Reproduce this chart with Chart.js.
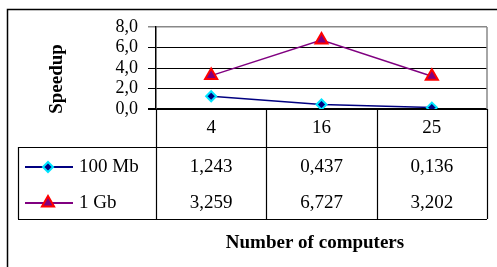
<!DOCTYPE html>
<html>
<head>
<meta charset="utf-8">
<script src="https://cdn.jsdelivr.net/npm/chart.js@4/dist/chart.umd.min.js"></script>
<style>
  html, body { margin: 0; padding: 0; background: #fff; }
  canvas { display: block; }
</style>
</head>
<body>
<canvas id="speedChart" width="497" height="267"></canvas>
<script>
// ── Data ─────────────────────────────────────────────────
const computers  = ['4', '16', '25'];
const speed100Mb = [1.243, 0.437, 0.136];
const speed1Gb   = [3.259, 6.727, 3.202];
const seriesNames = ['100 Mb', '1 Gb'];
const yTicks = [0, 2, 4, 6, 8];

const SERIF = '"Liberation Serif", "Times New Roman", serif';
const fmt = (v, d) => v.toFixed(d).replace('.', ',');

// table under the plot + frame, titles, legend keys
const tablePlugin = {
    id: 'dataTable',
    beforeDraw(chart) {
        const ctx = chart.ctx;
        ctx.save();
        ctx.fillStyle = '#fff';
        ctx.fillRect(0, 0, chart.width, chart.height);
        ctx.strokeStyle = '#000';
        ctx.lineWidth = 1.5;
        ctx.beginPath();
        ctx.moveTo(7.5, chart.height); ctx.lineTo(7.5, 9.5); ctx.lineTo(chart.width, 9.5);
        ctx.stroke();
        ctx.restore();
    },
    afterDraw(chart) {
        const ctx = chart.ctx;
        const x = chart.scales.x, area = chart.chartArea;
        const catTop = area.bottom, tabTop = 147, tabBot = 219, tabLeft = 18;
        const rowY = [167, 203];
        const bounds = [area.left];
        for (let i = 0; i < computers.length - 1; i++)
            bounds.push((x.getPixelForValue(i) + x.getPixelForValue(i + 1)) / 2);
        bounds.push(area.right);

        ctx.save();
        // plot right border (gray)
        ctx.strokeStyle = '#888';
        ctx.lineWidth = 1.5;
        ctx.beginPath();
        ctx.moveTo(area.right, area.top); ctx.lineTo(area.right, area.bottom);
        ctx.stroke();

        ctx.strokeStyle = '#000';
        ctx.lineWidth = 1.2;
        ctx.beginPath();
        bounds.forEach(b => { ctx.moveTo(Math.round(b) + 0.5, catTop); ctx.lineTo(Math.round(b) + 0.5, tabBot); });
        ctx.moveTo(tabLeft + 0.5, tabTop); ctx.lineTo(tabLeft + 0.5, tabBot);
        ctx.moveTo(tabLeft, tabTop + 0.5); ctx.lineTo(area.right, tabTop + 0.5);
        ctx.moveTo(tabLeft, tabBot + 0.5); ctx.lineTo(area.right, tabBot + 0.5);
        ctx.stroke();

        // category labels + values
        ctx.fillStyle = '#000';
        ctx.textAlign = 'center';
        ctx.textBaseline = 'middle';
        ctx.font = '19px ' + SERIF;
        computers.forEach((c, i) => {
            const cx = x.getPixelForValue(i);
            ctx.fillText(c, cx, 128);
            ctx.fillText(fmt(speed100Mb[i], 3), cx, rowY[0]);
            ctx.fillText(fmt(speed1Gb[i], 3), cx, rowY[1]);
        });

        // legend keys
        chart.data.datasets.forEach((ds, i) => {
            const y = rowY[i];
            ctx.strokeStyle = ds.borderColor;
            ctx.lineWidth = 2;
            ctx.beginPath();
            ctx.moveTo(25, y); ctx.lineTo(73, y);
            ctx.stroke();
            ctx.fillStyle = ds.pointBackgroundColor;
            ctx.strokeStyle = ds.pointBorderColor;
            Chart.helpers.drawPoint(ctx, {
                pointStyle: ds.pointStyle, radius: ds.pointRadius,
                borderWidth: ds.pointBorderWidth, rotation: 0
            }, 48, y);
            ctx.fillStyle = '#000';
            ctx.textAlign = 'left';
            ctx.font = '19px ' + SERIF;
            ctx.fillText(seriesNames[i], 79, y);
        });

        // axis titles
        ctx.font = 'bold 19px ' + SERIF;
        ctx.textAlign = 'center';
        ctx.fillText('Number of computers', 315, 243);
        ctx.translate(57, 79);
        ctx.rotate(-Math.PI / 2);
        ctx.fillText('Speedup', 0, 0);
        ctx.restore();
    }
};

new Chart(document.getElementById('speedChart'), {
    type: 'line',
    data: {
        labels: computers,
        datasets: [{
            label: seriesNames[0],
            data: speed100Mb,
            borderColor: '#000080',
            borderWidth: 1.5,
            pointStyle: 'rectRot',
            pointRadius: 5,
            pointBackgroundColor: '#000080',
            pointBorderColor: '#00e5ff',
            pointBorderWidth: 2,
        }, {
            label: seriesNames[1],
            data: speed1Gb,
            borderColor: '#800080',
            borderWidth: 1.5,
            pointStyle: 'triangle',
            pointRadius: 7,
            pointBackgroundColor: '#800080',
            pointBorderColor: '#ff0000',
            pointBorderWidth: 2,
        }],
    },
    options: {
        responsive: false,
        animation: false,
        layout: { padding: { left: 100, top: 27, right: 10, bottom: 158 } },
        plugins: { legend: { display: false }, tooltip: { enabled: false } },
        scales: {
            x: { display: false, offset: true },
            y: {
                min: 0, max: 8,
                afterFit: s => { s.width = 56; },
                afterBuildTicks: s => { s.ticks = yTicks.map(v => ({ value: v })); },
                border: { color: '#000', width: 1.5 },
                grid: {
                    tickLength: 8,
                    color: c => c.tick.value === 8 ? '#888' : '#000',
                    lineWidth: c => c.tick.value === 0 ? 2 : (c.tick.value === 8 ? 1.5 : 1),
                },
                ticks: {
                    autoSkip: false,
                    padding: 10,
                    color: '#000',
                    font: { family: SERIF, size: 18 },
                    callback: v => fmt(v, 1),
                },
            },
        },
    },
    plugins: [tablePlugin],
});
</script>
</body>
</html>
